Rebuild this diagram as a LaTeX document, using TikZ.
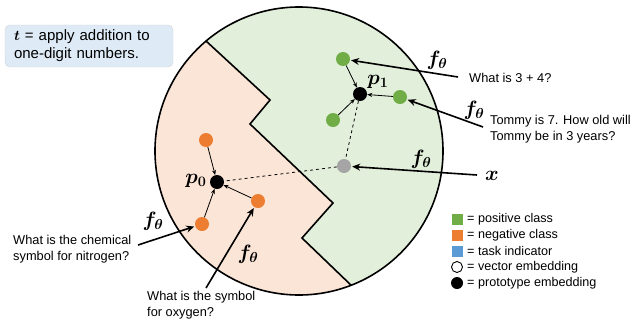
\documentclass[tikz,border=0pt]{standalone}
\usepackage{amsmath,bm}
\usepackage{fontspec}
\setmainfont{Liberation Sans}
\usetikzlibrary{arrows.meta}
\definecolor{posgreen}{HTML}{70AD47}
\definecolor{neggreen}{HTML}{ED7D31}
\definecolor{taskblue}{HTML}{5B9BD5}
\definecolor{querygray}{HTML}{A5A5A5}
\definecolor{posfill}{HTML}{E2EFDA}
\definecolor{negfill}{HTML}{FBE5D6}
\definecolor{boxfill}{HTML}{DEEBF7}
\begin{document}
\begin{tikzpicture}[x=1pt,y=-1pt,
  dot/.style={circle,inner sep=0pt,minimum size=14pt},
  posdot/.style={dot,fill=posgreen},
  negdot/.style={dot,fill=neggreen},
  protodot/.style={dot,fill=black},
  querydot/.style={dot,fill=querygray},
  feed/.style={-{Stealth[length=8pt,width=7pt]},line width=1.6pt,shorten >=1pt},
  pull/.style={-{Stealth[length=5pt,width=4pt]},line width=0.8pt},
  fth/.style={font=\fontsize{19.5}{19.5}\selectfont,inner sep=0pt},
  txt/.style={font=\fontsize{12.8}{16}\selectfont,align=left,anchor=west,inner sep=0pt},
  legtxt/.style={font=\fontsize{12.6}{12.6}\selectfont,anchor=west,inner sep=0pt}]
\useasboundingbox (0,0) rectangle (632,322);

% embedding space split into the two class regions
\fill[posfill] (299,151) circle[radius=144pt];
\begin{scope}
  \clip (299,151) circle[radius=144pt];
  \fill[negfill] (180,17) -- (270,100) -- (250,124) -- (333,203) -- (302,238)
    -- (380,313) -- (100,330) -- (100,0) -- cycle;
  \draw[line width=1.6pt,line join=miter] (180,17) -- (270,100) -- (250,124)
    -- (333,203) -- (302,238) -- (380,313);
\end{scope}
\draw[line width=1.6pt] (299,151) circle[radius=144pt];

% task description
\node[draw=black!18,fill=boxfill,rounded corners=5pt,minimum height=42pt,
  text width=150pt,align=left,inner xsep=9pt,inner ysep=4pt,
  font=\fontsize{15}{18}\selectfont] (task) at (89,46)
  {$\bm{t}$ = apply addition to\\one-digit numbers.};

% embeddings
\node[posdot] (g1) at (343,59) {};
\node[posdot] (g2) at (400,97) {};
\node[posdot] (g3) at (333,120) {};
\node[protodot] (p1) at (360,94) {};
\node[querydot] (x) at (344,166) {};
\node[negdot] (o1) at (206,140) {};
\node[negdot] (o2) at (202,224) {};
\node[negdot] (o3) at (258,201) {};
\node[protodot] (p0) at (217,182) {};

\node[fth] (p1lbl) at (378,82) {$\bm{p_1}$};
\node[fth] (p0lbl) at (196,181) {$\bm{p_0}$};

% class members pulled to their prototypes
\draw[pull] (g1) -- (p1);
\draw[pull] (g2) -- (p1);
\draw[pull] (g3) -- (p1);
\draw[pull] (o1) -- (p0);
\draw[pull] (o2) -- (p0);
\draw[pull] (o3) -- (p0);
\draw[dashed,line width=0.8pt] (p1) -- (x) -- (p0);

% inputs and their encodings
\node[txt] (q1) at (469,78) {What is 3 + 4?};
\node[txt] (q2) at (490,129) {Tommy is 7. How old will\\Tommy be in 3 years?};
\node[txt] (q3) at (13,249) {What is the chemical\\symbol for nitrogen?};
\node[txt] (q4) at (147,305) {What is the symbol\\for oxygen?};
\node[fth,anchor=west] (xl) at (485,176) {$\bm{x}$};

\coordinate (s1) at (458,77);
\coordinate (s2) at (483,127);
\coordinate (s3) at (477,175);
\coordinate (s4) at (138,245);
\coordinate (s5) at (206,288);
\draw[feed] (s1) -- (g1);
\draw[feed] (s2) -- (g2);
\draw[feed] (s3) -- (x);
\draw[feed] (s4) -- (o2);
\draw[feed] (s5) -- (o3);

\node[fth] (f1) at (437,60) {$\bm{f_\theta}$};
\node[fth] (f2) at (474,110) {$\bm{f_\theta}$};
\node[fth] (f3) at (421,159) {$\bm{f_\theta}$};
\node[fth] (f4) at (153,221) {$\bm{f_\theta}$};
\node[fth] (f5) at (248,254) {$\bm{f_\theta}$};

% legend
\node[fill=posgreen,minimum size=11pt,inner sep=0pt] (k1) at (457,219) {};
\node[fill=neggreen,minimum size=11pt,inner sep=0pt] (k2) at (457,235) {};
\node[fill=taskblue,minimum size=11pt,inner sep=0pt] (k3) at (457,251) {};
\node[draw=black,line width=0.9pt,circle,minimum size=11pt,inner sep=0pt] (k4) at (457,267) {};
\node[fill=black,circle,minimum size=12pt,inner sep=0pt] (k5) at (457,283) {};
\node[legtxt] (l1) at (467,219) {= positive class};
\node[legtxt] (l2) at (467,235) {= negative class};
\node[legtxt] (l3) at (467,251) {= task indicator};
\node[legtxt] (l4) at (467,267) {= vector embedding};
\node[legtxt] (l5) at (467,283) {= prototype embedding};
\end{tikzpicture}
\end{document}
